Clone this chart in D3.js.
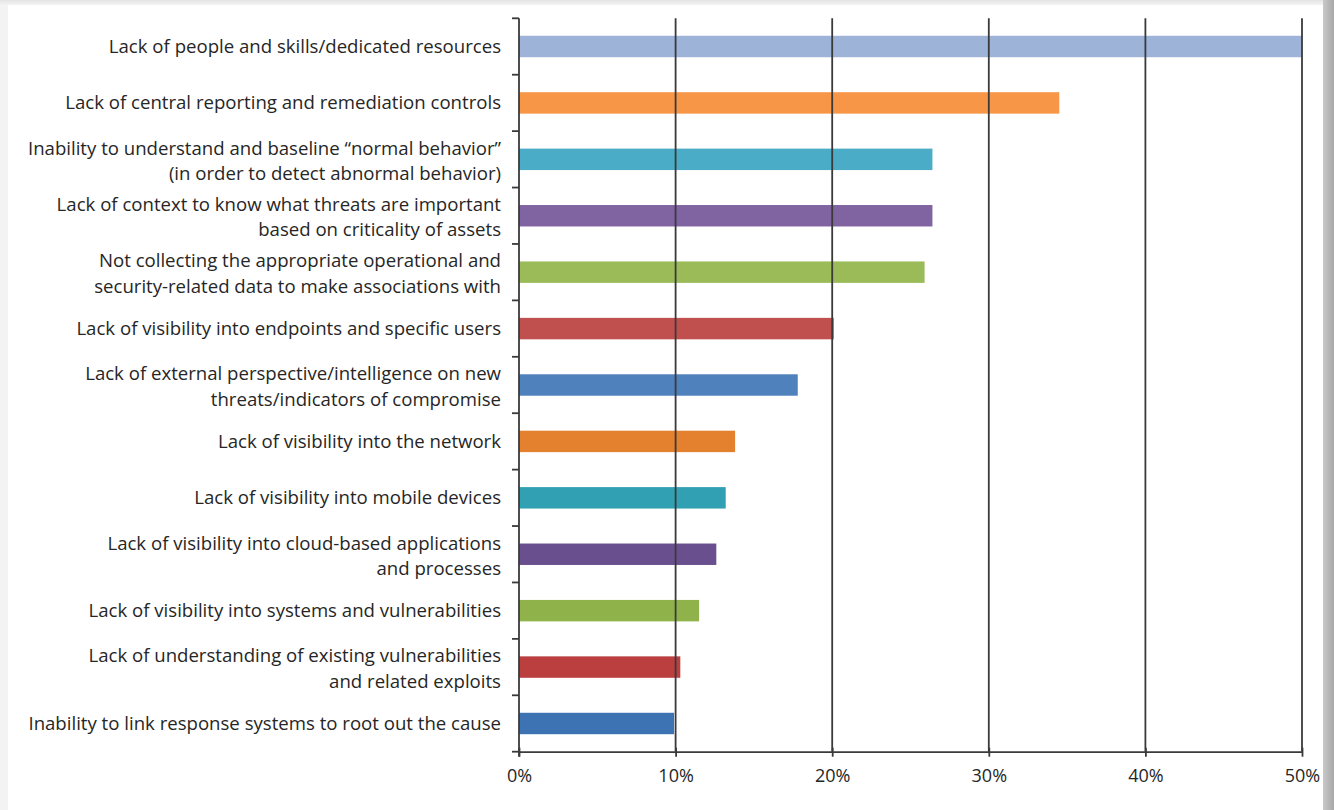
<!DOCTYPE html>
<html><head><meta charset="utf-8">
<script src="https://cdn.jsdelivr.net/npm/d3@7"></script>
<style>
html,body{margin:0;padding:0;background:#fff;}
svg{display:block;}
</style></head>
<body>
<svg id="chart" width="1334" height="810"></svg>
<script>
const categories = [
  ["Lack of people and skills/dedicated resources"],
  ["Lack of central reporting and remediation controls"],
  ["Inability to understand and baseline \u201cnormal behavior\u201d", "(in order to detect abnormal behavior)"],
  ["Lack of context to know what threats are important", "based on criticality of assets"],
  ["Not collecting the appropriate operational and", "security-related data to make associations with"],
  ["Lack of visibility into endpoints and specific users"],
  ["Lack of external perspective/intelligence on new", "threats/indicators of compromise"],
  ["Lack of visibility into the network"],
  ["Lack of visibility into mobile devices"],
  ["Lack of visibility into cloud-based applications", "and processes"],
  ["Lack of visibility into systems and vulnerabilities"],
  ["Lack of understanding of existing vulnerabilities", "and related exploits"],
  ["Inability to link response systems to root out the cause"]
];
const values = [50.0, 34.5, 26.4, 26.4, 25.9, 20.1, 17.8, 13.8, 13.2, 12.6, 11.5, 10.3, 9.9];
const colors = ["#9db3d8", "#f79646", "#4aacc6", "#8064a2", "#9bbb59", "#c0504d", "#4f81bd",
                "#e3812f", "#31a0b2", "#6a4f8f", "#8fb34a", "#bb3f3f", "#3d72b3"];
const xTicks = [0, 10, 20, 30, 40, 50];

(function(){
const svg = d3.select("#chart");
const W = 1334, H = 810;

const defs = svg.append("defs");
const gr = defs.append("linearGradient").attr("id","shR").attr("x1","0").attr("x2","1");
gr.append("stop").attr("offset","0").attr("stop-color","#c8c8c8");
gr.append("stop").attr("offset","1").attr("stop-color","#a8a8a8");
const gt = defs.append("linearGradient").attr("id","shT").attr("x1","0").attr("x2","0").attr("y1","0").attr("y2","1");
gt.append("stop").attr("offset","0").attr("stop-color","#e4e4e4");
gt.append("stop").attr("offset","1").attr("stop-color","#f6f6f6");
svg.append("rect").attr("x",0).attr("y",0).attr("width",W).attr("height",H).attr("fill","#f3f3f3");
svg.append("rect").attr("x",0).attr("y",0).attr("width",W).attr("height",6).attr("fill","url(#shT)");
svg.append("rect").attr("x",1323).attr("y",0).attr("width",11).attr("height",H).attr("fill","url(#shR)");
svg.append("rect").attr("x",8).attr("y",5).attr("width",1315).attr("height",H-5).attr("fill","#ffffff");

const pL = 519, pR = 1302, pT = 18.3, pB = 751.7;
const x = d3.scaleLinear().domain([0, 50]).range([pL, pR]);
const y = d3.scaleBand().domain(d3.range(categories.length)).range([pT, pB]).paddingInner(0.62).paddingOuter(0.31);

const g = svg.append("g");

g.selectAll("rect.bar").data(values).join("rect")
  .attr("class","bar")
  .attr("x", x(0))
  .attr("y", (d,i) => y(i))
  .attr("width", d => x(d) - x(0))
  .attr("height", y.bandwidth())
  .attr("fill", (d,i) => colors[i]);

g.selectAll("line.grid").data(xTicks.filter(t => t > 0)).join("line")
  .attr("class","grid")
  .attr("x1", d => x(d)).attr("x2", d => x(d))
  .attr("y1", pT).attr("y2", pB)
  .attr("stroke", "#3a3a3a").attr("stroke-width", 1.8);

const xAxis = d3.axisBottom(x).tickValues(xTicks).tickFormat(d => d + "%").tickSize(6).tickSizeOuter(0);
const xg = g.append("g").attr("transform", `translate(0,${pB})`).call(xAxis);
xg.select(".domain").attr("stroke","#3a3a3a").attr("stroke-width",1.8);
xg.selectAll(".tick line").attr("stroke","#3a3a3a").attr("stroke-width",1.8).attr("y1",-4).attr("y2",5);
xg.selectAll(".tick text").attr("fill","#262626").attr("font-family","'Open Sans', sans-serif")
  .attr("font-size", 18).attr("dy", "1.2em");

const boundaries = d3.range(categories.length + 1).map(i => pT + i * (pB - pT) / categories.length);
g.append("line").attr("x1", pL).attr("x2", pL).attr("y1", pT).attr("y2", pB + 5)
  .attr("stroke","#3a3a3a").attr("stroke-width",1.8);
g.selectAll("line.ytick").data(boundaries).join("line")
  .attr("class","ytick")
  .attr("x1", pL - 7).attr("x2", pL)
  .attr("y1", d => d).attr("y2", d => d)
  .attr("stroke","#3a3a3a").attr("stroke-width",1.8);

const fs = 18.6, lineGap = 25.4;
const lab = g.selectAll("text.cat").data(categories).join("text")
  .attr("class","cat")
  .attr("text-anchor","end")
  .attr("font-family","'Open Sans', sans-serif")
  .attr("font-size", fs)
  .attr("fill","#262626")
  .attr("x", 501)
  .attr("y", (d,i) => y(i) + y.bandwidth()/2);
lab.each(function(lines){
  const t = d3.select(this);
  const n = lines.length;
  lines.forEach((s, k) => {
    t.append("tspan").attr("x", 501)
     .attr("dy", k === 0 ? (-(n-1)/2 * lineGap + 0.35 * fs + (n > 1 ? 1.5 : 0)) : lineGap)
     .text(s);
  });
});
})();
</script>
</body></html>
